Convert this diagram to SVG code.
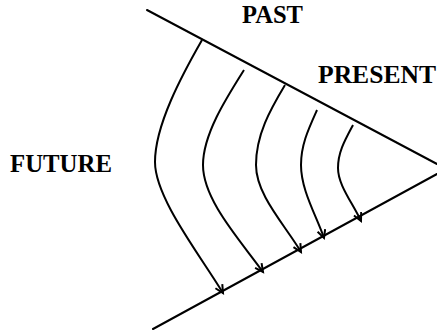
<svg xmlns="http://www.w3.org/2000/svg" width="437" height="331" viewBox="0 0 437 331">
<defs>
<style>
.ln{stroke:#000;stroke-width:2;fill:none;stroke-linecap:round}
.cv{stroke:#000;stroke-width:2;fill:none;marker-end:url(#ah)}
.lbl{font-family:"Liberation Serif","Times New Roman",serif;font-weight:700;font-size:25px;fill:#000}
</style>
<marker id="ah" markerUnits="userSpaceOnUse" markerWidth="12" markerHeight="12" refX="9" refY="5" orient="auto">
<path d="M1,1 L9,5 L1,9" fill="none" stroke="#000" stroke-width="2"/>
</marker>
</defs>
<rect width="437" height="331" fill="#fff"/>
<g id="boundaries">
<line class="ln" x1="147" y1="10" x2="437" y2="164"/>
<line class="ln" x1="153" y1="329" x2="437" y2="174"/>
</g>
<g id="connectors">
<path class="cv" d="M202,40 C182,75 155,125 155,162 C155,198 200,255 223,293"/>
<path class="cv" d="M244,70 C225,100 203,135 203,165 C203,200 240,240 263,272"/>
<path class="cv" d="M285,85 C270,110 256,135 256,165 C256,195 285,225 301,252"/>
<path class="cv" d="M317,110 C308,130 301,145 301,165 C301,190 316,215 324,238"/>
<path class="cv" d="M353,125 C345,140 338,152 338,168 C338,185 352,202 361,221"/>
</g>
<g id="past"><text class="lbl" x="242" y="23" textLength="61" lengthAdjust="spacingAndGlyphs">PAST</text></g>
<g id="present"><text class="lbl" x="318" y="83" textLength="118" lengthAdjust="spacingAndGlyphs">PRESENT</text></g>
<g id="future"><text class="lbl" x="10" y="172" textLength="102" lengthAdjust="spacingAndGlyphs">FUTURE</text></g>
</svg>
